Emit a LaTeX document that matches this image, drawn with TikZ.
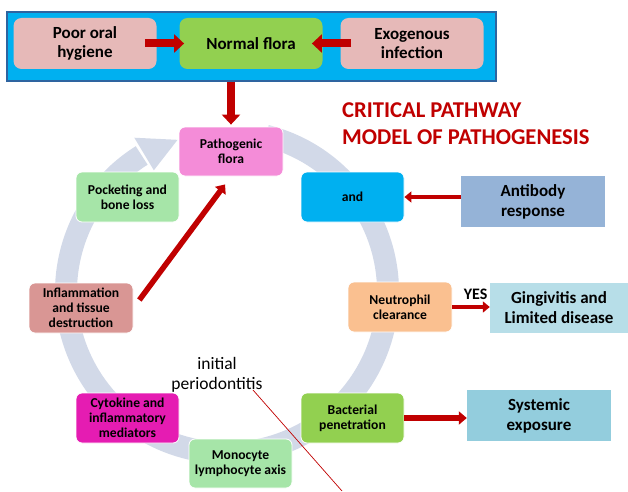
\documentclass[tikz,border=0pt]{standalone}
\usepackage{fontspec}
\setmainfont{Carlito}
\usetikzlibrary{arrows.meta,positioning}

\definecolor{darkred}{RGB}{192,0,0}
\definecolor{ringblue}{RGB}{210,217,232}
\definecolor{framecyan}{RGB}{0,176,240}
\definecolor{frameline}{RGB}{46,100,160}
\definecolor{rosepink}{RGB}{230,185,184}
\definecolor{leafgreen}{RGB}{146,208,80}
\definecolor{pathopink}{RGB}{244,140,216}
\definecolor{palegreen}{RGB}{166,229,168}
\definecolor{dustyred}{RGB}{217,150,148}
\definecolor{magentared}{RGB}{229,28,178}
\definecolor{peach}{RGB}{250,192,144}
\definecolor{steelblue}{RGB}{149,179,215}
\definecolor{paleblue}{RGB}{183,222,232}
\definecolor{aquablue}{RGB}{147,205,221}

\tikzset{
  cbox/.style={rounded corners=6pt, draw=white, line width=0.8pt,
    minimum width=103pt, minimum height=50pt, align=center, inner sep=2pt,
    font=\bfseries\fontsize{13.6}{15}\selectfont},
  topbox/.style={cbox, minimum width=143pt, minimum height=51pt,
    rounded corners=8pt, font=\bfseries\fontsize{17}{19.5}\selectfont},
  outbox/.style={minimum width=144pt, minimum height=51pt, align=center,
    font=\bfseries\fontsize{17}{20}\selectfont},
  bigarrow/.style={darkred, line width=8pt, -{Triangle[length=10pt,width=18pt]}},
  midarrow/.style={darkred, line width=5.5pt, -{Triangle[length=8pt,width=13pt]}},
  thinarrow/.style={darkred, line width=4.5pt, -{Triangle[length=7pt,width=11pt]}},
  ringline/.style={ringblue, line width=22pt}
}

\begin{document}
\begin{tikzpicture}[x=1pt, y=1pt]

    \useasboundingbox (0,0) rectangle (628,491);

    % Ring
    \coordinate (ctr) at (227,199);
    \draw[ringline] ([shift={(76:161)}]ctr) arc[start angle=76, end angle=-238, radius=161];
    \fill[ringblue] ([shift={(121:142)}]ctr) -- ([shift={(108:160)}]ctr)
                    -- ([shift={(121:180)}]ctr) -- cycle;

    % Nodes
    \node (frame) [draw=frameline, line width=1.5pt, fill=framecyan,
                   minimum width=489pt, minimum height=69pt] at (251.5,444.5) {};
    \node (poor) [topbox, draw=none, fill=rosepink] at (85,447.5) {Poor oral\\hygiene};
    \node (normal) [topbox, draw=none, fill=leafgreen] at (251,447.5) {Normal flora};
    \node (exog) [topbox, draw=none, fill=rosepink] at (412,447.5) {Exogenous\\infection};

    \node (patho) [cbox, fill=pathopink, minimum width=104pt, minimum height=49pt] at (231,339.5) {Pathogenic\\flora};
    \node (pocket) [cbox, fill=palegreen] at (127.5,294) {Pocketing and\\bone loss};
    \node (inflam) [cbox, fill=dustyred, minimum width=104pt] at (81,183) {Inflammation\\and tissue\\destruction};
    \node (cyto) [cbox, fill=magentared] at (127.5,73) {Cytokine and\\inflammatory\\mediators};
    \node (mono) [cbox, fill=palegreen, minimum height=49pt] at (240.5,27.5) {Monocyte\\lymphocyte axis};
    \node (andbox) [cbox, fill=framecyan] at (352.5,294) {and};
    \node (neut) [cbox, fill=peach, minimum width=104pt] at (400,184) {Neutrophil\\clearance};
    \node (bact) [cbox, fill=leafgreen] at (352.5,73) {Bacterial\\penetration};

    \node (antib) [outbox, fill=steelblue] at (533,289.5) {Antibody\\response};
    \node (ging) [outbox, fill=paleblue, minimum width=138pt, minimum height=50pt] at (559,183) {Gingivitis and\\Limited disease};
    \node (syst) [outbox, fill=aquablue] at (539,75.5) {Systemic\\exposure};

    \node (title) [anchor=north west, inner sep=0, align=left, text=darkred,
                   font=\bfseries\fontsize{22.6}{27}\selectfont] at (342,389)
                  {CRITICAL PATHWAY\\MODEL OF PATHOGENESIS};
    \node (initp) [align=center, font=\fontsize{17.5}{20}\selectfont] at (217,116) {initial\\periodontitis};

    \coordinate (linestart) at (253,101);
    \coordinate (lineend) at (342,0);

    % Arrows
    \draw[bigarrow, shorten <=-12pt, shorten >=-5pt] (poor.east) -- (normal.west);
    \draw[bigarrow, shorten <=-11pt, shorten >=-11pt] (exog.west) -- (normal.east);
    \draw[bigarrow, shorten >=2pt] (patho |- frame.south) -- (patho.north);
    \draw[midarrow, shorten <=10pt, shorten >=10pt] (inflam.east) -- (patho.south);
    \draw[thinarrow] (antib.west |- andbox.east) -- (andbox.east);
    \draw[thinarrow] (neut.east) -- (neut.east -| ging.west)
              node[pos=0.62, above=5pt, inner sep=0, text=black,
                   font=\bfseries\fontsize{16}{18}\selectfont] (yes) {YES};
    \draw[midarrow] (bact.east) -- (bact.east -| syst.west);
    \draw[darkred, line width=0.7pt] (linestart) -- (lineend);

\end{tikzpicture}
\end{document}
